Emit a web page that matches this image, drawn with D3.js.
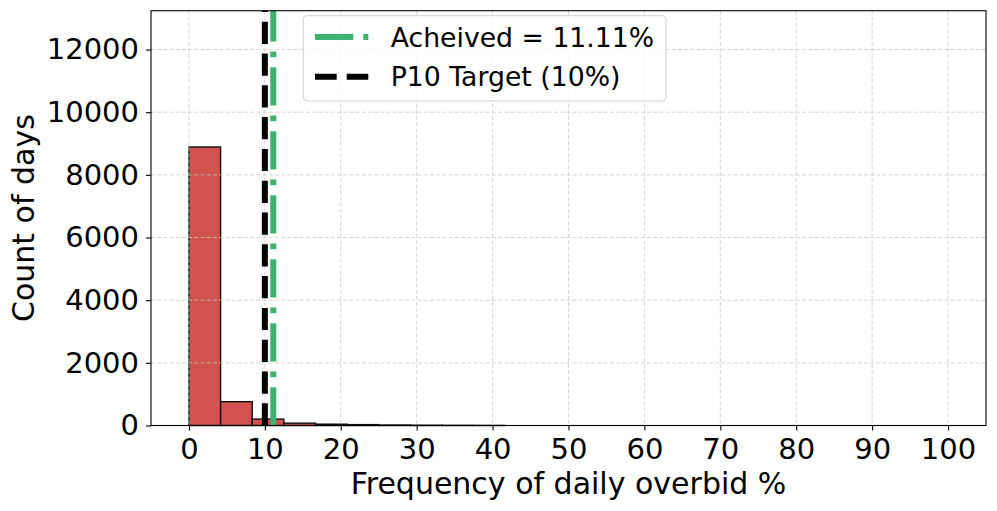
<!DOCTYPE html>
<html>
<head>
<meta charset="utf-8">
<script src="https://cdn.jsdelivr.net/npm/d3@7"></script>
<style>
  body { margin: 0; background: #fff; }
  text { font-family: "DejaVu Sans", sans-serif; fill: #000; }
</style>
</head>
<body>
<div id="chart"></div>
<script>
// histogram bins (left edges, % overbid) and counts
const binEdges = [0, 4.17, 8.33, 12.5, 16.67, 20.83, 25, 29.17, 33.33, 37.5, 41.67, 45.83,
  50, 54.17, 58.33, 62.5, 66.67, 70.83, 75, 79.17, 83.33, 87.5, 91.67, 95.83, 100];
const counts = [8890, 760, 205, 75, 42, 28, 16, 10, 6, 3, 0, 0,
  0, 0, 0, 0, 0, 0, 0, 0, 0, 0, 0, 0];
const xTicks = [0, 10, 20, 30, 40, 50, 60, 70, 80, 90, 100];
const yTicks = [0, 2000, 4000, 6000, 8000, 10000, 12000];
const achieved = 11.11;
const target = 10;
const legendLabels = ["Acheived = 11.11%", "P10 Target (10%)"];

const W = 997, H = 511;
const margin = { top: 10.7, right: 11, bottom: 85.5, left: 151 };
const width = W - margin.left - margin.right,
  height = H - margin.top - margin.bottom;

const svg = d3.select("#chart").append("svg").attr("width", W).attr("height", H);
const g = svg.append("g").attr("transform", `translate(${margin.left},${margin.top})`);

const x = d3.scaleLinear().domain([-5, 105]).range([0, width]);
const y = d3.scaleLinear().domain([0, 13240]).range([height, 0]);

const bins = counts.map((c, i) => ({ x0: binEdges[i], x1: binEdges[i + 1], c }));

// bars
g.selectAll(".bar").data(bins.filter(d => d.c > 0)).enter().append("rect")
  .attr("class", "bar")
  .attr("x", d => x(d.x0))
  .attr("y", d => y(d.c))
  .attr("width", d => x(d.x1) - x(d.x0))
  .attr("height", d => height - y(d.c))
  .attr("fill", "#d1524e")
  .attr("stroke", "#111")
  .attr("stroke-width", 1.4);

// grid (drawn over bars like matplotlib default)
const grid = g.append("g").attr("stroke", "#c8c8c8").attr("stroke-width", 0.9)
  .attr("stroke-dasharray", "4,2.2").attr("opacity", 0.85);
grid.selectAll(".gx").data(xTicks).enter().append("line")
  .attr("x1", d => x(d)).attr("x2", d => x(d)).attr("y1", 0).attr("y2", height);
grid.selectAll(".gy").data(yTicks).enter().append("line")
  .attr("x1", 0).attr("x2", width).attr("y1", d => y(d)).attr("y2", d => y(d));

// vertical reference lines (dash pattern starts at bottom)
g.append("line")
  .attr("x1", x(achieved)).attr("x2", x(achieved)).attr("y1", height).attr("y2", 0)
  .attr("stroke", "#3cb371").attr("stroke-width", 6)
  .attr("stroke-dasharray", "38.3,10,5.7,10");
g.append("line")
  .attr("x1", x(target)).attr("x2", x(target)).attr("y1", height).attr("y2", 0)
  .attr("stroke", "#000").attr("stroke-width", 6)
  .attr("stroke-dasharray", "22.2,9.6");

// axes
const xAxis = g.append("g").attr("transform", `translate(0,${height})`)
  .call(d3.axisBottom(x).tickValues(xTicks).tickSize(5).tickPadding(8).tickSizeOuter(0));
const yAxis = g.append("g")
  .call(d3.axisLeft(y).tickValues(yTicks).tickSize(5).tickPadding(7).tickFormat(d3.format("d")).tickSizeOuter(0));
[xAxis, yAxis].forEach(a => {
  a.select(".domain").remove();
  a.selectAll("line").attr("stroke", "#000").attr("stroke-width", 1.1);
  a.selectAll("text").style("font-size", "29px").attr("fill", "#000");
});

// frame
g.append("rect").attr("width", width).attr("height", height)
  .attr("fill", "none").attr("stroke", "#000").attr("stroke-width", 1.1);

// axis labels
svg.append("text").attr("x", margin.left + width / 2).attr("y", 494)
  .attr("text-anchor", "middle").style("font-size", "30px")
  .text("Frequency of daily overbid %");
svg.append("text").attr("transform", `translate(34,${margin.top + height / 2}) rotate(-90)`)
  .attr("text-anchor", "middle").style("font-size", "30px")
  .text("Count of days");

// legend
const legend = svg.append("g").attr("transform", "translate(303.3,15.7)");
legend.append("rect").attr("width", 362.7).attr("height", 85.3).attr("rx", 4)
  .attr("fill", "#fff").attr("fill-opacity", 0.8).attr("stroke", "#d0d0d0").attr("stroke-width", 1);
const legendStyles = [
  { color: "#3cb371", dash: "38.3,10,5.7,10" },
  { color: "#000", dash: "21.7,10" }
];
legendLabels.forEach((label, i) => {
  const row = legend.append("g").attr("transform", `translate(0,${21.3 + i * 39.7})`);
  row.append("line").attr("x1", 11.7).attr("x2", 65).attr("y1", 0).attr("y2", 0)
    .attr("stroke", legendStyles[i].color).attr("stroke-width", 6)
    .attr("stroke-dasharray", legendStyles[i].dash);
  row.append("text").attr("x", 87.4).attr("y", 9.6).style("font-size", "26.7px").text(label);
});
</script>
</body>
</html>
